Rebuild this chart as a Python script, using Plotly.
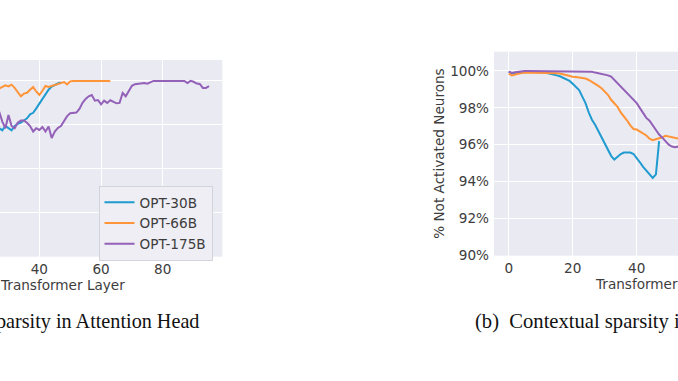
import plotly.graph_objects as go

# ---------------- data ----------------
# (a) attention-head sparsity (only layers visible in the crop)
a_layers_30b = list(range(27, 48))
a_opt30b = [58.5, 57.5, 59.5, 58.5, 57.5, 59.5, 60.5, 61.0, 62.0, 63.0, 64.8,
            65.5, 67.5, 69.5, 71.5, 74.0, 76.0, 77.4, 78.2, 78.8, 79.3]

a_layers_66b = list(range(27, 64))
a_opt66b = [76.5, 77.2, 78.0, 77.5, 78.3, 76.8, 75.0, 73.0, 74.2, 74.6, 76.0,
            77.2, 75.2, 73.6, 75.5, 77.7, 77.3, 77.7, 78.2, 78.7, 79.2, 79.5,
            78.4, 79.8, 80.0, 80.0, 80.0, 80.0, 80.0, 80.0, 80.0, 80.0, 80.0,
            80.0, 80.0, 80.0, 80.0]

a_layers_175b = list(range(27, 96))
a_opt175b = [66.0, 61.5, 58.5, 64.5, 59.5, 58.5, 61.0, 62.0, 62.0, 61.0, 59.5,
             57.0, 58.5, 57.7, 59.0, 57.0, 59.3, 54.0, 57.0, 58.6, 59.5, 61.8,
             64.0, 65.3, 65.3, 65.6, 67.3, 70.0, 71.8, 73.0, 73.6, 71.0, 71.3,
             69.3, 71.0, 70.0, 71.2, 70.4, 69.8, 70.0, 74.5, 73.0, 75.5, 77.8,
             78.5, 78.6, 78.8, 79.0, 78.7, 79.3, 80.0, 80.0, 80.0, 80.0, 80.0,
             80.0, 80.0, 80.0, 80.0, 80.0, 80.0, 79.0, 80.0, 79.6, 78.8, 78.6,
             76.8, 76.8, 77.6]

# (b) MLP-block sparsity
b_layers_30b = list(range(0, 48))
b_opt30b = [99.95, 99.85, 99.88, 99.90, 99.92, 99.93, 99.93, 99.93, 99.93, 99.92,
            99.92, 99.90, 99.88, 99.85, 99.80, 99.75, 99.70, 99.62, 99.55, 99.45,
            99.30, 99.15, 98.95, 98.60, 98.25, 97.75, 97.35, 97.08, 96.75, 96.40,
            96.10, 95.75, 95.40, 95.20, 95.35, 95.50, 95.58, 95.60, 95.58, 95.50,
            95.30, 95.05, 94.80, 94.60, 94.35, 94.20, 94.40, 96.20]

b_layers_66b = list(range(0, 54))
b_opt66b = [99.85, 99.75, 99.80, 99.85, 99.88, 99.90, 99.90, 99.90, 99.90, 99.90,
            99.90, 99.90, 99.90, 99.90, 99.88, 99.87, 99.85, 99.80, 99.75, 99.70,
            99.68, 99.66, 99.64, 99.62, 99.58, 99.50, 99.40, 99.28, 99.18, 99.05,
            98.90, 98.70, 98.43, 98.25, 98.05, 97.75, 97.55, 97.30, 97.05, 96.85,
            96.82, 96.72, 96.63, 96.50, 96.33, 96.25, 96.30, 96.33, 96.40, 96.48,
            96.45, 96.40, 96.36, 96.33]

b_layers_175b = list(range(0, 54))
b_opt175b = [99.95, 99.88, 99.92, 99.95, 99.97, 99.99, 99.99, 99.99, 99.99, 99.99,
             99.99, 99.99, 99.99, 99.99, 99.99, 99.99, 99.99, 99.99, 99.99, 99.99,
             99.99, 99.99, 99.99, 99.98, 99.97, 99.96, 99.95, 99.90, 99.87, 99.84,
             99.80, 99.75, 99.68, 99.50, 99.35, 99.15, 98.97, 98.80, 98.62, 98.45,
             98.25, 97.98, 97.70, 97.45, 97.30, 97.05, 96.80, 96.55, 96.38, 96.20,
             96.00, 95.90, 95.87, 95.90]

series_names = ["OPT-30B", "OPT-66B", "OPT-175B"]
a_x_ticks = [20, 40, 60, 80]
a_y_ticks = [20, 40, 60, 80]
b_x_ticks = [0, 20, 40, 60, 80]
b_y_ticks = [90, 92, 94, 96, 98, 100]
b_y_ticktext = ["90%", "92%", "94%", "96%", "98%", "100%"]

# ---------------- style ----------------
W, H = 678, 381
colors = ["#1f9bd0", "#ff9438", "#9361b8"]
BG = "#EAEAF2"
TXT = "#3d3d3d"
TICKFONT = dict(family="DejaVu Sans", size=13.6, color=TXT)


def px_x(p):
    return p / W


def px_y(p):
    return 1 - p / H


fig = go.Figure()

a_sets = [(a_layers_30b, a_opt30b), (a_layers_66b, a_opt66b), (a_layers_175b, a_opt175b)]
for i, (xs, ys) in enumerate(a_sets):
    fig.add_trace(go.Scatter(x=xs, y=ys, mode="lines", name=series_names[i],
                             line=dict(color=colors[i], width=2),
                             xaxis="x", yaxis="y"))

b_sets = [(b_layers_30b, b_opt30b), (b_layers_66b, b_opt66b), (b_layers_175b, b_opt175b)]
for i, (xs, ys) in enumerate(b_sets):
    fig.add_trace(go.Scatter(x=xs, y=ys, mode="lines", name=series_names[i],
                             line=dict(color=colors[i], width=2),
                             showlegend=False,
                             xaxis="x2", yaxis="y2"))

axis_common = dict(showgrid=True, gridcolor="white", gridwidth=1, zeroline=False,
                   showline=False, ticks="", tickfont=TICKFONT, automargin=False)

fig.update_layout(
    template="none",
    width=W, height=H,
    margin=dict(l=0, r=0, t=0, b=0, pad=0),
    paper_bgcolor="white",
    plot_bgcolor=BG,
    xaxis=dict(domain=[0, px_x(222.3)], range=[27.25, 99.3], tickvals=a_x_ticks,
               anchor="y", ticklabelstandoff=3, **axis_common),
    yaxis=dict(domain=[px_y(256.7), px_y(60)], range=[0.1, 89.5], tickvals=a_y_ticks,
               showticklabels=False, anchor="x", **axis_common),
    xaxis2=dict(domain=[px_x(494), 1], range=[-4.6, 52.9], tickvals=b_x_ticks,
                anchor="y2", ticklabelstandoff=3, **axis_common),
    yaxis2=dict(domain=[px_y(255.7), px_y(51.7)], range=[90, 101.03], tickvals=b_y_ticks,
                ticktext=b_y_ticktext, anchor="x2", ticklabelstandoff=4, **axis_common),
    legend=dict(x=px_x(98.5), y=px_y(186), xanchor="left", yanchor="top",
                bgcolor="#EEEEF4", bordercolor="#D3D3DB", borderwidth=1,
                font=dict(family="DejaVu Sans", size=13.6, color=TXT)),
    showlegend=True,
)

annotations = [
    dict(text="Transformer Layer", x=px_x(62), y=px_y(285)),
    dict(text="Transformer Layer", x=px_x(657), y=px_y(284)),
]
for a in annotations:
    fig.add_annotation(xref="paper", yref="paper", showarrow=False,
                       xanchor="center", yanchor="middle",
                       font=TICKFONT, **a)

fig.add_annotation(text="% Not Activated Neurons", xref="paper", yref="paper",
                   x=px_x(438.3), y=px_y(153.5), textangle=-90, showarrow=False,
                   xanchor="center", yanchor="middle", font=TICKFONT)

cap_font_a = dict(family="Liberation Serif", size=20.2, color="#111111")
cap_font_b = dict(family="Liberation Serif", size=20.6, color="#111111")
fig.add_annotation(text="(a) Contextual sparsity in Attention Head", xref="paper", yref="paper",
                   x=px_x(201), y=px_y(321), xanchor="right", yanchor="middle",
                   showarrow=False, font=cap_font_a)
fig.add_annotation(text="(b)  Contextual sparsity in MLP Block", xref="paper", yref="paper",
                   x=px_x(472.7), y=px_y(321), xanchor="left", yanchor="middle",
                   showarrow=False, font=cap_font_b)

fig.write_html(
    "out.html",
    config={"displayModeBar": False},
    post_script="document.body.style.margin='0';document.body.style.overflow='hidden';",
)
